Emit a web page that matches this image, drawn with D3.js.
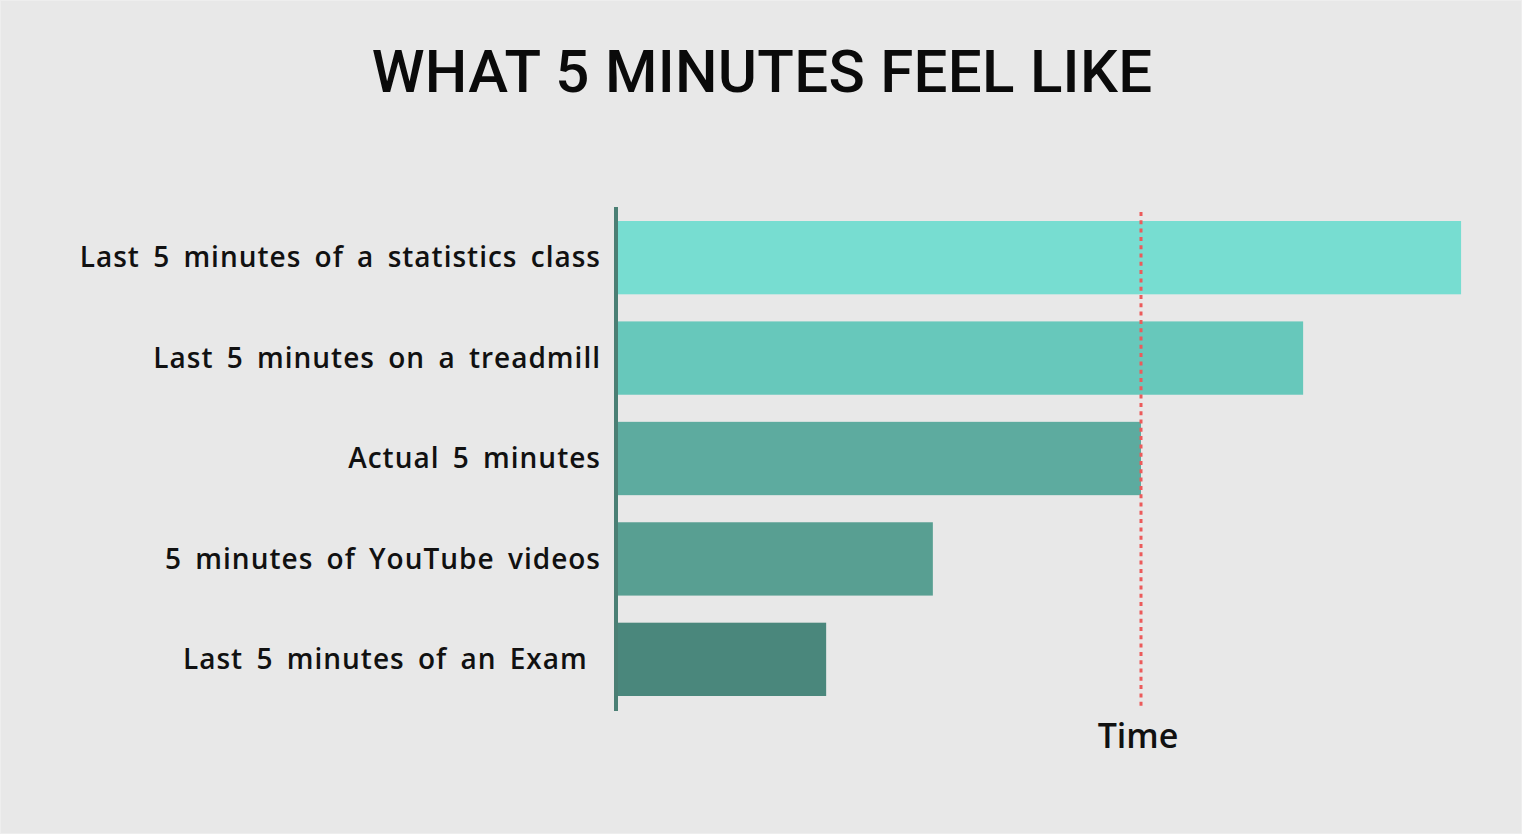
<!DOCTYPE html>
<html>
<head>
<meta charset="utf-8">
<script src="https://cdn.jsdelivr.net/npm/d3@7"></script>
<style>
  html, body { margin: 0; padding: 0; background: #e8e8e8; }
  svg { display: block; }
</style>
</head>
<body>
<div id="chart"></div>
<script>
// chart data
const categories = [
  'Last 5 minutes of a statistics class',
  'Last 5 minutes on a treadmill',
  'Actual 5 minutes',
  '5 minutes of YouTube videos',
  'Last 5 minutes of an Exam '
];
const feltMinutes = [8.06, 6.55, 5, 3.01, 1.99];
const actualMinutes = 5;
const barColors = ['#77ddd1', '#67c8bb', '#5dab9f', '#589f92', '#4a877c'];

const width = 1522, height = 834;
const x0 = 618, y0 = 221;

const svg = d3.select('#chart')
              .append('svg')
              .attr('width', width)
              .attr('height', height);

svg.append('rect')
   .attr('x', 0.5).attr('y', 0.5)
   .attr('width', width - 1).attr('height', height - 1)
   .attr('fill', '#e8e8e8')
   .attr('stroke', '#eeeeee');

const xScale = d3.scaleLinear()
                 .domain([0, 5])
                 .range([x0, 1141]);

const yScale = d3.scaleBand()
                 .domain(categories)
                 .range([y0, 696])
                 .paddingInner(0.27);

svg.append('text')
   .attr('x', 762)
   .attr('y', 92)
   .attr('text-anchor', 'middle')
   .style('font-family', 'Roboto, sans-serif')
   .style('font-weight', 500)
   .style('font-size', '60px')
   .style('letter-spacing', '0.3px')
   .attr('fill', '#0a0a0a')
   .text('WHAT 5 MINUTES FEEL LIKE');

svg.selectAll('rect.bar')
   .data(feltMinutes)
   .enter()
   .append('rect')
   .attr('class', 'bar')
   .attr('x', xScale(0))
   .attr('y', (d, i) => yScale(categories[i]))
   .attr('width', d => xScale(d) - xScale(0))
   .attr('height', yScale.bandwidth())
   .attr('fill', (d, i) => barColors[i]);

// category labels
svg.selectAll('text.label')
   .data(categories)
   .enter()
   .append('text')
   .attr('class', 'label')
   .attr('x', 601)
   .attr('y', d => yScale(d) + yScale.bandwidth() / 2)
   .attr('dy', '0.35em')
   .attr('text-anchor', 'end')
   .style('white-space', 'pre')
   .style('font-family', '"Open Sans", sans-serif')
   .style('font-weight', 600)
   .style('font-size', '28px')
   .style('word-spacing', '5px')
   .style('letter-spacing', '1px')
   .attr('fill', '#111')
   .text(d => d);

// vertical axis line
svg.append('line')
   .attr('x1', x0 - 2).attr('x2', x0 - 2)
   .attr('y1', 207).attr('y2', 711)
   .attr('stroke', '#4a7f74')
   .attr('stroke-width', 4);

// actual 5 minutes marker
svg.append('line')
   .attr('x1', xScale(actualMinutes)).attr('x2', xScale(actualMinutes))
   .attr('y1', 212).attr('y2', 706)
   .attr('stroke', '#ec5b5b')
   .attr('stroke-width', 3)
   .attr('stroke-dasharray', '4 4.3');

svg.append('text')
   .attr('x', xScale(actualMinutes) - 3)
   .attr('y', 748)
   .attr('text-anchor', 'middle')
   .style('font-family', '"Open Sans", sans-serif')
   .style('font-weight', 600)
   .style('font-size', '34px')
   .attr('fill', '#111')
   .text('Time');
</script>
</body>
</html>
